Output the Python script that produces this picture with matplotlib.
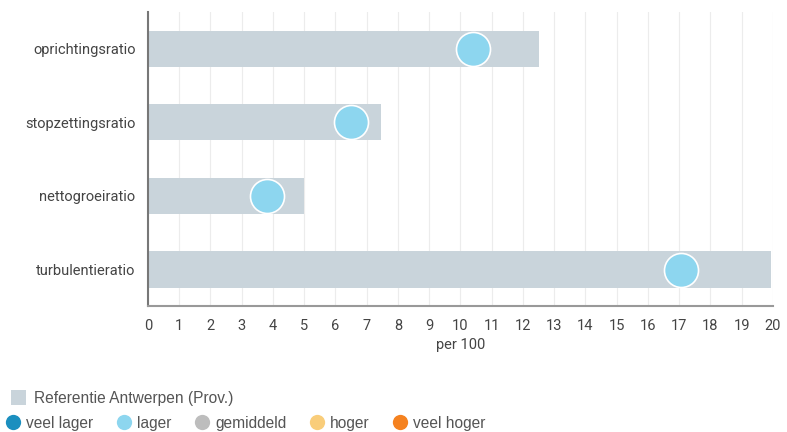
import matplotlib.pyplot as plt
from matplotlib.lines import Line2D
from matplotlib.patches import Patch

plt.rcParams['font.family'] = ['Roboto', 'DejaVu Sans']

categories = ['oprichtingsratio', 'stopzettingsratio', 'nettogroeiratio', 'turbulentieratio']
referentie = [12.5, 7.45, 5.0, 19.95]
waarde = [10.4, 6.5, 3.8, 17.05]

legend_labels = ['veel lager', 'lager', 'gemiddeld', 'hoger', 'veel hoger']
legend_colors = ['#1b8fbf', '#8dd6ef', '#bdbdbd', '#f9cd7a', '#f58220']
bar_color = '#c9d4db'

fig = plt.figure(figsize=(7.87, 4.32), dpi=100)
ax = fig.add_axes([0.188, 0.291, 0.794, 0.681])

y = list(range(len(categories)))
ax.barh(y, referentie, height=0.49, color=bar_color, zorder=2)
ax.scatter(waarde, y, s=600, color=legend_colors[1], edgecolor='white', linewidth=1.2, zorder=3)

ax.set_xlim(0, 20)
ax.set_ylim(3.5, -0.5)
ax.set_xticks(range(0, 21))
ax.set_yticks(y)
ax.set_yticklabels(categories)
ax.grid(axis='x', color='#ececec', linewidth=0.8, zorder=0)
ax.tick_params(axis='both', length=0, labelsize=10.5, colors='#444444')
ax.tick_params(axis='x', pad=9)
ax.tick_params(axis='y', pad=9)
ax.set_xlabel('per 100', fontsize=10.5, color='#444444', labelpad=4)
for s in ['top', 'right']:
    ax.spines[s].set_visible(False)
ax.spines['left'].set_color('#777777')
ax.spines['bottom'].set_color('#999999')
ax.spines['left'].set_linewidth(1.5)
ax.spines['bottom'].set_linewidth(1.5)

lf = {'family': ['Liberation Sans', 'DejaVu Sans'], 'size': 11.2}
ref_handle = [Patch(facecolor=bar_color, edgecolor='none')]
fig.legend(ref_handle, ['Referentie Antwerpen (Prov.)'], loc='upper left',
           bbox_to_anchor=(-0.004, 0.13), frameon=False, prop=lf,
           handlelength=1.0, handleheight=1.1, handletextpad=0.5,
           labelcolor='#555555')
dots = [Line2D([], [], marker='o', linestyle='none', markersize=11,
               markerfacecolor=c, markeredgecolor='none') for c in legend_colors]
fig.legend(dots, legend_labels, loc='upper left', bbox_to_anchor=(-0.009, 0.07),
           ncol=5, frameon=False, prop=lf, handlelength=0.8,
           handletextpad=0.45, columnspacing=1.55, labelcolor='#555555')

fig.savefig('out.png', dpi=100)
